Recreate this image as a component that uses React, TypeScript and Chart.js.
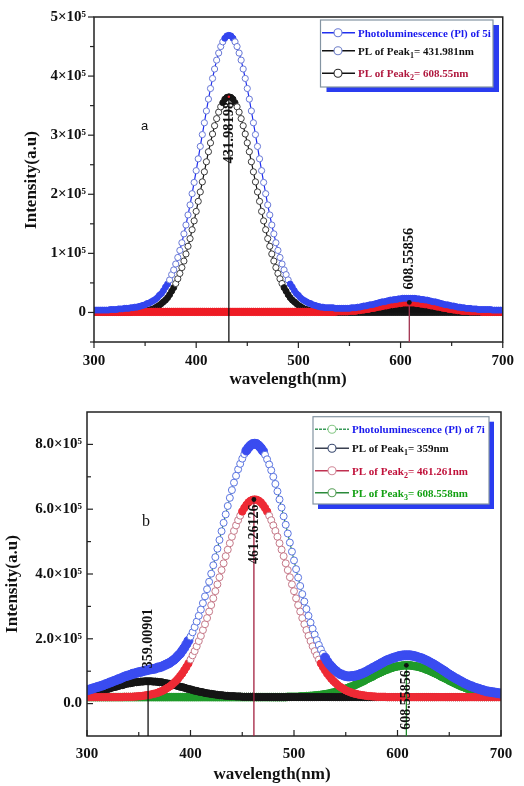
import React, { useEffect, useRef } from "react";
import { Chart, registerables } from "chart.js";

Chart.register(...registerables);

const SERIF = "'Liberation Serif', 'Times New Roman', Times, serif";
const SANS = "'Liberation Sans', Arial, Helvetica, sans-serif";

// ---------------- data (intensities in units of 10^3) ----------------
const wavelength = [
  300, 302, 304, 306, 308, 310, 312, 314, 316, 318,
  320, 322, 324, 326, 328, 330, 332, 334, 336, 338,
  340, 342, 344, 346, 348, 350, 352, 354, 356, 358,
  360, 362, 364, 366, 368, 370, 372, 374, 376, 378,
  380, 382, 384, 386, 388, 390, 392, 394, 396, 398,
  400, 402, 404, 406, 408, 410, 412, 414, 416, 418,
  420, 422, 424, 426, 428, 430, 432, 434, 436, 438,
  440, 442, 444, 446, 448, 450, 452, 454, 456, 458,
  460, 462, 464, 466, 468, 470, 472, 474, 476, 478,
  480, 482, 484, 486, 488, 490, 492, 494, 496, 498,
  500, 502, 504, 506, 508, 510, 512, 514, 516, 518,
  520, 522, 524, 526, 528, 530, 532, 534, 536, 538,
  540, 542, 544, 546, 548, 550, 552, 554, 556, 558,
  560, 562, 564, 566, 568, 570, 572, 574, 576, 578,
  580, 582, 584, 586, 588, 590, 592, 594, 596, 598,
  600, 602, 604, 606, 608, 610, 612, 614, 616, 618,
  620, 622, 624, 626, 628, 630, 632, 634, 636, 638,
  640, 642, 644, 646, 648, 650, 652, 654, 656, 658,
  660, 662, 664, 666, 668, 670, 672, 674, 676, 678,
  680, 682, 684, 686, 688, 690, 692, 694, 696, 698,
  700,
];

// Panel (a): compound 5i
const pl5iTotal = [
  4, 4, 4, 4, 4, 4, 4, 4, 5, 5,
  5, 5, 6, 6, 6, 7, 7, 7, 8, 8,
  9, 9, 10, 11, 12, 13, 15, 16, 18, 20,
  22, 25, 29, 32, 37, 43, 48, 55, 64, 72,
  82, 93, 105, 118, 133, 148, 165, 182, 201, 220,
  240, 260, 281, 301, 321, 341, 361, 379, 396, 412,
  427, 439, 450, 458, 464, 468, 469, 468, 464, 458,
  450, 439, 427, 412, 396, 379, 361, 341, 321, 301,
  281, 260, 240, 220, 201, 182, 165, 148, 133, 118,
  105, 93, 82, 72, 64, 55, 48, 43, 37, 32,
  29, 25, 22, 20, 18, 16, 15, 13, 12, 11,
  10, 9, 9, 8, 8, 8, 8, 8, 7, 7,
  7, 7, 7, 7, 7, 7, 8, 8, 8, 9,
  9, 10, 11, 11, 12, 13, 13, 14, 15, 16,
  17, 18, 18, 19, 20, 21, 21, 22, 22, 23,
  23, 24, 24, 24, 24, 24, 24, 24, 23, 23,
  22, 22, 21, 21, 20, 19, 18, 18, 17, 16,
  15, 14, 13, 13, 12, 11, 11, 10, 9, 9,
  8, 8, 7, 7, 7, 6, 6, 6, 5, 5,
  5, 5, 5, 5, 5, 4, 4, 4, 4, 4,
  4,
];
const pl5iPeak1 = [
  0, 0, 0, 0, 0, 0, 0, 0, 0, 0,
  0, 0, 0, 0, 0, 0, 0, 0, 0, 1,
  1, 1, 1, 2, 2, 2, 3, 4, 5, 6,
  8, 10, 12, 15, 18, 21, 25, 30, 36, 42,
  49, 57, 66, 76, 87, 99, 112, 125, 140, 155,
  171, 188, 204, 221, 238, 255, 272, 287, 302, 316,
  328, 339, 348, 355, 361, 364, 365, 364, 361, 355,
  348, 339, 328, 316, 302, 287, 272, 255, 238, 221,
  204, 188, 171, 155, 140, 125, 112, 99, 87, 76,
  66, 57, 49, 42, 36, 30, 25, 21, 18, 15,
  12, 10, 8, 6, 5, 4, 3, 2, 2, 2,
  1, 1, 1, 1, 0, 0, 0, 0, 0, 0,
  0, 0, 0, 0, 0, 0, 0, 0, 0, 0,
  0, 0, 0, 0, 0, 0, 0, 0, 0, 0,
  0, 0, 0, 0, 0, 0, 0, 0, 0, 0,
  0, 0, 0, 0, 0, 0, 0, 0, 0, 0,
  0, 0, 0, 0, 0, 0, 0, 0, 0, 0,
  0, 0, 0, 0, 0, 0, 0, 0, 0, 0,
  0, 0, 0, 0, 0, 0, 0, 0, 0, 0,
  0, 0, 0, 0, 0, 0, 0, 0, 0, 0,
  0,
];
const pl5iPeak2 = [
  1, 1, 1, 1, 1, 1, 1, 1, 1, 1,
  1, 1, 1, 1, 1, 1, 1, 1, 1, 1,
  1, 1, 1, 1, 1, 1, 1, 1, 1, 1,
  1, 1, 1, 1, 1, 1, 1, 1, 1, 1,
  1, 1, 1, 1, 1, 1, 1, 1, 1, 1,
  1, 1, 1, 1, 1, 1, 1, 1, 1, 1,
  1, 1, 1, 1, 1, 1, 1, 1, 1, 1,
  1, 1, 1, 1, 1, 1, 1, 1, 1, 1,
  1, 1, 1, 1, 1, 1, 1, 1, 1, 1,
  1, 1, 1, 1, 1, 1, 1, 1, 1, 1,
  1, 1, 1, 1, 1, 1, 1, 1, 1, 1,
  1, 1, 1, 1, 1, 1, 1, 1, 1, 2,
  2, 2, 2, 2, 2, 3, 3, 3, 3, 4,
  4, 5, 5, 6, 6, 7, 8, 8, 9, 10,
  10, 11, 12, 12, 13, 14, 14, 15, 15, 16,
  16, 17, 17, 17, 17, 17, 17, 17, 16, 16,
  15, 15, 14, 14, 13, 12, 12, 11, 10, 10,
  9, 8, 8, 7, 6, 6, 5, 5, 4, 4,
  3, 3, 3, 3, 2, 2, 2, 2, 2, 2,
  1, 1, 1, 1, 1, 1, 1, 1, 1, 1,
  1,
];

// Panel (b): compound 7i
const pl7iTotal = [
  41, 43, 45, 47, 49, 51, 53, 55, 57, 60,
  62, 65, 67, 70, 72, 75, 77, 80, 83, 85,
  87, 89, 92, 93, 95, 97, 98, 100, 102, 103,
  105, 106, 107, 108, 111, 112, 114, 117, 120, 123,
  126, 131, 135, 141, 148, 154, 163, 172, 183, 194,
  207, 220, 236, 253, 271, 290, 310, 331, 353, 376,
  401, 427, 452, 478, 505, 532, 558, 584, 610, 635,
  659, 682, 703, 723, 740, 756, 770, 781, 790, 797,
  801, 802, 801, 796, 789, 780, 768, 754, 738, 720,
  700, 678, 655, 630, 605, 578, 552, 525, 497, 469,
  442, 415, 389, 363, 338, 315, 292, 271, 250, 231,
  213, 196, 181, 167, 154, 142, 131, 122, 115, 108,
  102, 97, 92, 90, 87, 85, 84, 84, 85, 85,
  87, 88, 91, 93, 96, 99, 103, 106, 110, 113,
  117, 120, 124, 127, 131, 134, 136, 139, 141, 143,
  145, 147, 148, 149, 149, 149, 149, 148, 147, 145,
  143, 141, 139, 136, 133, 130, 126, 123, 119, 115,
  111, 107, 103, 99, 94, 90, 86, 82, 78, 75,
  71, 68, 64, 61, 58, 55, 53, 50, 48, 46,
  44, 42, 40, 38, 37, 36, 35, 34, 33, 32,
  31,
];
const pl7iPeak1 = [
  31, 32, 33, 35, 36, 37, 39, 40, 42, 44,
  45, 47, 49, 51, 52, 54, 56, 57, 59, 61,
  62, 63, 64, 66, 66, 67, 68, 68, 69, 69,
  69, 69, 68, 68, 67, 66, 66, 64, 63, 62,
  61, 59, 57, 56, 54, 52, 51, 49, 47, 45,
  44, 42, 40, 39, 37, 36, 35, 33, 32, 31,
  30, 29, 28, 27, 26, 26, 25, 24, 24, 23,
  23, 23, 22, 22, 22, 21, 21, 21, 21, 21,
  21, 20, 20, 20, 20, 20, 20, 20, 20, 20,
  20, 20, 20, 20, 20, 20, 20, 20, 20, 20,
  20, 20, 20, 20, 20, 20, 20, 20, 20, 20,
  20, 20, 20, 20, 20, 20, 20, 20, 20, 20,
  20, 20, 20, 20, 20, 20, 20, 20, 20, 20,
  20, 20, 20, 20, 20, 20, 20, 20, 20, 20,
  20, 20, 20, 20, 20, 20, 20, 20, 20, 20,
  20, 20, 20, 20, 20, 20, 20, 20, 20, 20,
  20, 20, 20, 20, 20, 20, 20, 20, 20, 20,
  20, 20, 20, 20, 20, 20, 20, 20, 20, 20,
  20, 20, 20, 20, 20, 20, 20, 20, 20, 20,
  20, 20, 20, 20, 20, 20, 20, 20, 20, 20,
  20,
];
const pl7iPeak2 = [
  20, 20, 20, 20, 20, 20, 20, 20, 20, 20,
  20, 20, 20, 20, 20, 20, 20, 20, 21, 21,
  21, 21, 21, 22, 22, 23, 23, 24, 25, 26,
  27, 28, 30, 31, 33, 36, 38, 41, 45, 49,
  53, 58, 64, 70, 77, 85, 93, 103, 113, 124,
  136, 149, 162, 177, 193, 209, 227, 245, 264, 284,
  304, 325, 347, 368, 390, 412, 433, 455, 475, 495,
  515, 533, 550, 566, 580, 593, 604, 613, 621, 626,
  629, 630, 629, 626, 621, 613, 604, 593, 580, 566,
  550, 533, 515, 495, 475, 455, 433, 412, 390, 368,
  347, 325, 304, 284, 264, 245, 227, 209, 193, 177,
  162, 149, 136, 124, 113, 103, 93, 85, 77, 70,
  64, 58, 53, 49, 45, 41, 38, 36, 33, 31,
  30, 28, 27, 26, 25, 24, 23, 23, 22, 22,
  21, 21, 21, 21, 21, 20, 20, 20, 20, 20,
  20, 20, 20, 20, 20, 20, 20, 20, 20, 20,
  20, 20, 20, 20, 20, 20, 20, 20, 20, 20,
  20, 20, 20, 20, 20, 20, 20, 20, 20, 20,
  20, 20, 20, 20, 20, 20, 20, 20, 20, 20,
  20, 20, 20, 20, 20, 20, 20, 20, 20, 20,
  20,
];
const pl7iPeak3 = [
  20, 20, 20, 20, 20, 20, 20, 20, 20, 20,
  20, 20, 20, 20, 20, 20, 20, 20, 20, 20,
  20, 20, 20, 20, 20, 20, 20, 20, 20, 20,
  20, 20, 20, 20, 20, 20, 20, 20, 20, 20,
  20, 20, 20, 20, 20, 20, 20, 20, 20, 20,
  20, 20, 20, 20, 20, 20, 20, 20, 20, 20,
  20, 20, 20, 20, 20, 20, 20, 20, 20, 20,
  20, 20, 20, 20, 20, 20, 20, 20, 20, 20,
  20, 20, 20, 20, 20, 20, 20, 20, 20, 20,
  20, 20, 20, 20, 20, 20, 20, 21, 21, 21,
  21, 21, 21, 22, 22, 22, 23, 23, 24, 24,
  25, 25, 26, 27, 28, 29, 30, 31, 33, 34,
  36, 37, 39, 41, 43, 46, 48, 51, 53, 56,
  59, 62, 65, 68, 71, 75, 78, 81, 84, 88,
  91, 94, 97, 100, 103, 105, 108, 110, 112, 114,
  115, 116, 117, 118, 118, 118, 118, 117, 116, 115,
  114, 112, 110, 108, 105, 103, 100, 97, 94, 91,
  88, 84, 81, 78, 75, 71, 68, 65, 62, 59,
  56, 53, 51, 48, 46, 43, 41, 39, 37, 36,
  34, 33, 31, 30, 29, 28, 27, 26, 25, 25,
  24,
];

// axis ticks
const xTicks = [300, 400, 500, 600, 700];
const xMinorTicks = [350, 450, 550, 650];
const yTicksA = [0, 100, 200, 300, 400, 500];
const yTickLabelsA = ["0", "1×10⁵", "2×10⁵", "3×10⁵", "4×10⁵", "5×10⁵"];
const yMinorTicksA = [-50, 50, 150, 250, 350, 450];
const yTicksB = [0, 200, 400, 600, 800];
const yTickLabelsB = ["0.0", "2.0×10⁵", "4.0×10⁵", "6.0×10⁵", "8.0×10⁵"];
const yMinorTicksB = [100, 300, 500, 700];

// peak annotations
const peakXA = [431.98198, 608.55856];
const peakYA = [365, 17];
const peakLabelsA = ["431.98198", "608.55856"];
const peakXB = [359.00901, 461.26126, 608.55856];
const peakYB = [69, 630, 118];
const peakLabelsB = ["359.00901", "461.26126", "608.55856"];

// legend texts: [main, subscript, rest]
const legendTextsA = [
  ["Photoluminescence (Pl) of 5i", "", ""],
  ["PL of Peak", "1", "= 431.981nm"],
  ["PL of Peak", "2", "= 608.55nm"],
];
const legendTextsB = [
  ["Photoluminescence (Pl) of 7i", "", ""],
  ["PL of Peak", "1", "= 359nm"],
  ["PL of Peak", "2", "= 461.261nm"],
  ["PL of Peak", "3", "= 608.558nm"],
];

// ---------------- styles / layout ----------------
type SeriesStyle = {
  data: number[]; line: string; ring: string; solid: string;
  r: number; rDense: number; fillBelow?: string;
};
type LegendRowStyle = { text: string; line: string; ring: string; dash?: number[] };
type PanelSpec = {
  series: SeriesStyle[];
  yMin: number; yMax: number;
  yTicks: number[]; yLabels: string[]; yMinor: number[];
  padTop: number; padRight: number; yAxisW: number; xAxisH: number;
  xTickPad: number; yTickPad: number; tickDir: number;
  yTitle: [number, number]; xTitle: [number, number];
  peaksX: number[]; peaksY: number[]; peakLabels: string[];
  peakColors: string[]; peakSides: string[]; peakFont: string; redDot: number;
  legendTexts: string[][]; legendRows: LegendRowStyle[];
  legendBox: { x: number; y: number; w: number; h: number; dx: number; dy: number };
  legendRowY: number[]; legendSym: [number, number, number]; legendTextX: number;
  letter: { text: string; x: number; y: number; font: string };
};

const specA: PanelSpec = {
  series: [
    { data: pl5iTotal, line: "#1e2df2", ring: "#6878d6", solid: "#3345ee", r: 3.1, rDense: 3.0 },
    { data: pl5iPeak2, line: "#ee1c25", ring: "#ee1c25", solid: "#ee1c25", r: 3.6, rDense: 3.7, fillBelow: "#111111" },
    { data: pl5iPeak1, line: "#111111", ring: "#3c3c3c", solid: "#161616", r: 3.1, rDense: 3.0 },
  ],
  yMin: -50, yMax: 500, yTicks: yTicksA, yLabels: yTickLabelsA, yMinor: yMinorTicksA,
  padTop: 10, padRight: 19, yAxisW: 94, xAxisH: 51, xTickPad: 10, yTickPad: 8, tickDir: -1,
  yTitle: [32, 180], xTitle: [288, 380],
  peaksX: peakXA, peaksY: peakYA, peakLabels: peakLabelsA,
  peakColors: ["#111111", "#a3334f"], peakSides: ["below", "above"],
  peakFont: `bold 14.5px ${SERIF}`, redDot: 0,
  legendTexts: legendTextsA,
  legendRows: [
    { text: "#1a1aee", line: "#2030f0", ring: "#6a7ad6" },
    { text: "#111111", line: "#111111", ring: "#7080c8" },
    { text: "#b0183e", line: "#111111", ring: "#2a2a2a" },
  ],
  legendBox: { x: 320.5, y: 20, w: 172.5, h: 67, dx: 6, dy: 5 },
  legendRowY: [32.7, 50.7, 73.3], legendSym: [322, 355, 338], legendTextX: 358,
  letter: { text: "a", x: 144.5, y: 129.5, font: `13px ${SANS}` },
};

const specB: PanelSpec = {
  series: [
    { data: pl7iTotal, line: "#2f8a50", ring: "#5a74e0", solid: "#3a4cf0", r: 3.5, rDense: 4.5 },
    { data: pl7iPeak2, line: "#c42a48", ring: "#c57888", solid: "#ee2a35", r: 3.5, rDense: 3.7 },
    { data: pl7iPeak1, line: "#111111", ring: "#222222", solid: "#151515", r: 3.5, rDense: 3.6 },
    { data: pl7iPeak3, line: "#1b8a25", ring: "#7cc47c", solid: "#1f9a2a", r: 3.5, rDense: 3.9 },
  ],
  yMin: -100, yMax: 900, yTicks: yTicksB, yLabels: yTickLabelsB, yMinor: yMinorTicksB,
  padTop: 19, padRight: 23, yAxisW: 87, xAxisH: 50, xTickPad: 9, yTickPad: 5, tickDir: 1,
  yTitle: [13, 191], xTitle: [272, 382],
  peaksX: peakXB, peaksY: peakYB, peakLabels: peakLabelsB,
  peakColors: ["#111111", "#a3203f", "#1f8a2a"], peakSides: ["above", "below", "below"],
  peakFont: `bold 14px ${SERIF}`, redDot: -1,
  legendTexts: legendTextsB,
  legendRows: [
    { text: "#1a1aee", line: "#3a9a5a", ring: "#88c888", dash: [3, 1] },
    { text: "#111111", line: "#3a4050", ring: "#3a4a70" },
    { text: "#c0103a", line: "#c03050", ring: "#d08898" },
    { text: "#12a012", line: "#2a8a3a", ring: "#5aa05a" },
  ],
  legendBox: { x: 313, y: 23.7, w: 176, h: 87.3, dx: 5, dy: 5 },
  legendRowY: [36.3, 55.3, 77.7, 99.7], legendSym: [315, 349, 332], legendTextX: 352,
  letter: { text: "b", x: 146, y: 133, font: `16px ${SERIF}` },
};

function rotText(ctx: CanvasRenderingContext2D, text: string, x: number, y: number, align: CanvasTextAlign) {
  ctx.save();
  ctx.translate(x, y);
  ctx.rotate(-Math.PI / 2);
  ctx.textAlign = align;
  ctx.textBaseline = "middle";
  ctx.fillText(text, 0, 0);
  ctx.restore();
}

function seg(ctx: CanvasRenderingContext2D, x0: number, y0: number, x1: number, y1: number) {
  ctx.beginPath();
  ctx.moveTo(x0, y0);
  ctx.lineTo(x1, y1);
  ctx.stroke();
}

function buildChart(canvas: HTMLCanvasElement, spec: PanelSpec): Chart {
  const isDense = (ctx: any, values: number[]) => {
    if (!ctx || ctx.type !== "data") return false;
    const ch = ctx.chart;
    const xs = ch.scales.x, ys = ch.scales.y;
    if (!xs || !ys) return false;
    const i = ctx.dataIndex;
    const a = Math.max(0, i - 1), b = Math.min(values.length - 1, i + 1);
    const dx = (xs.getPixelForValue(wavelength[b]) - xs.getPixelForValue(wavelength[a])) / (b - a);
    const dy = (ys.getPixelForValue(values[b]) - ys.getPixelForValue(values[a])) / (b - a);
    return Math.hypot(dx, dy) < 4.5;
  };

  const datasets = spec.series.map((s) => ({
    data: wavelength.map((x, i) => ({ x, y: s.data[i] })),
    borderColor: s.line,
    borderWidth: 1.2,
    backgroundColor: s.fillBelow || "rgba(0,0,0,0)",
    fill: s.fillBelow ? "origin" : false,
    tension: 0,
    pointRadius: (c: any) => (isDense(c, s.data) ? s.rDense : s.r),
    pointBackgroundColor: (c: any) => (isDense(c, s.data) ? s.solid : "#ffffff"),
    pointBorderColor: (c: any) => (isDense(c, s.data) ? s.solid : s.ring),
    pointBorderWidth: 1,
  }));

  const decor = {
    id: "decor",
    afterDatasetsDraw(chart: any) {
      const { ctx, chartArea: ca } = chart;
      const xs = chart.scales.x, ys = chart.scales.y;
      const dir = spec.tickDir; // 1 = inward, -1 = outward
      ctx.save();
      // frame
      ctx.strokeStyle = "#222";
      ctx.lineWidth = 1.5;
      ctx.strokeRect(ca.left, ca.top, ca.right - ca.left, ca.bottom - ca.top);
      // ticks
      ctx.lineWidth = 1.2;
      xTicks.forEach((v) => { const p = xs.getPixelForValue(v); seg(ctx, p, ca.bottom, p, ca.bottom - 6 * dir); });
      xMinorTicks.forEach((v) => { const p = xs.getPixelForValue(v); seg(ctx, p, ca.bottom, p, ca.bottom - 4 * dir); });
      spec.yTicks.forEach((v) => { const p = ys.getPixelForValue(v); seg(ctx, ca.left, p, ca.left + 6 * dir, p); });
      spec.yMinor.forEach((v) => { const p = ys.getPixelForValue(v); seg(ctx, ca.left, p, ca.left + 4 * dir, p); });

      // peak drop lines, dots and labels
      spec.peaksX.forEach((pxv, i) => {
        const px = xs.getPixelForValue(pxv);
        const py = ys.getPixelForValue(spec.peaksY[i]);
        ctx.strokeStyle = spec.peakColors[i];
        ctx.lineWidth = 1.3;
        seg(ctx, px, py, px, ca.bottom);
        ctx.fillStyle = "#111";
        ctx.beginPath(); ctx.arc(px, py, 2.4, 0, Math.PI * 2); ctx.fill();
        if (i === spec.redDot) {
          ctx.fillStyle = "#ee1c25";
          ctx.beginPath(); ctx.arc(px, py, 1.3, 0, Math.PI * 2); ctx.fill();
        }
        ctx.fillStyle = "#111";
        ctx.font = spec.peakFont;
        if (spec.peakSides[i] === "above") rotText(ctx, spec.peakLabels[i], px, py - 13, "left");
        else rotText(ctx, spec.peakLabels[i], px, py + 5, "right");
      });

      // panel letter
      ctx.fillStyle = "#111";
      ctx.font = spec.letter.font;
      ctx.textAlign = "center";
      ctx.textBaseline = "alphabetic";
      ctx.fillText(spec.letter.text, spec.letter.x, spec.letter.y);

      // legend
      const lb = spec.legendBox;
      ctx.fillStyle = "#2a3cf0";
      ctx.fillRect(lb.x + lb.dx, lb.y + lb.dy, lb.w, lb.h);
      ctx.fillStyle = "#ffffff";
      ctx.fillRect(lb.x, lb.y, lb.w, lb.h);
      ctx.strokeStyle = "#8494a2";
      ctx.lineWidth = 1.2;
      ctx.strokeRect(lb.x, lb.y, lb.w, lb.h);
      const [sx0, sx1, scx] = spec.legendSym;
      spec.legendRows.forEach((row, i) => {
        const yy = spec.legendRowY[i];
        ctx.strokeStyle = row.line;
        ctx.lineWidth = 1.5;
        ctx.setLineDash(row.dash || []);
        seg(ctx, sx0, yy, sx1, yy);
        ctx.setLineDash([]);
        ctx.fillStyle = "#fff";
        ctx.strokeStyle = row.ring;
        ctx.lineWidth = 1.1;
        ctx.beginPath(); ctx.arc(scx, yy, 4, 0, Math.PI * 2); ctx.fill(); ctx.stroke();
        const parts = spec.legendTexts[i];
        const main = `bold 11px ${SERIF}`;
        ctx.fillStyle = row.text;
        ctx.textAlign = "left";
        ctx.textBaseline = "alphabetic";
        ctx.font = main;
        let x = spec.legendTextX;
        const base = yy + 4;
        ctx.fillText(parts[0], x, base);
        x += ctx.measureText(parts[0]).width;
        if (parts[1]) {
          ctx.font = `bold 8px ${SERIF}`;
          ctx.fillText(parts[1], x, base + 3);
          x += ctx.measureText(parts[1]).width;
          ctx.font = main;
        }
        if (parts[2]) ctx.fillText(parts[2], x, base);
      });

      // axis titles
      ctx.fillStyle = "#111";
      ctx.font = `bold 17px ${SERIF}`;
      rotText(ctx, "Intensity(a.u)", spec.yTitle[0], spec.yTitle[1], "center");
      ctx.textAlign = "center";
      ctx.textBaseline = "middle";
      ctx.fillText("wavelength(nm)", spec.xTitle[0], spec.xTitle[1]);
      ctx.restore();
    },
  };

  const tickFont = { family: SERIF, size: 15, weight: "bold" as const };

  return new Chart(canvas, {
    type: "line",
    data: { datasets: datasets as any },
    options: {
      responsive: false,
      animation: false,
      events: [],
      layout: { padding: { top: spec.padTop, right: spec.padRight, left: 0, bottom: 0 } },
      plugins: { legend: { display: false }, tooltip: { enabled: false } },
      scales: {
        x: {
          type: "linear",
          min: 300,
          max: 700,
          afterBuildTicks: (s: any) => { s.ticks = xTicks.map((v) => ({ value: v })); },
          ticks: { font: tickFont, color: "#111", padding: spec.xTickPad, maxRotation: 0, autoSkip: false },
          grid: { display: false, drawTicks: false },
          border: { display: false },
          afterFit: (s: any) => { s.height = spec.xAxisH; },
        },
        y: {
          type: "linear",
          min: spec.yMin,
          max: spec.yMax,
          afterBuildTicks: (s: any) => { s.ticks = spec.yTicks.map((v) => ({ value: v })); },
          ticks: {
            font: tickFont,
            color: "#111",
            padding: spec.yTickPad,
            autoSkip: false,
            callback: (v: any) => {
              const k = spec.yTicks.indexOf(Number(v));
              return k >= 0 ? spec.yLabels[k] : "";
            },
          },
          grid: { display: false, drawTicks: false },
          border: { display: false },
          afterFit: (s: any) => { s.width = spec.yAxisW; },
        },
      },
    } as any,
    plugins: [decor],
  });
}

export default function App() {
  const refA = useRef<HTMLCanvasElement>(null);
  const refB = useRef<HTMLCanvasElement>(null);
  useEffect(() => {
    const a = buildChart(refA.current as HTMLCanvasElement, specA);
    const b = buildChart(refB.current as HTMLCanvasElement, specB);
    return () => { a.destroy(); b.destroy(); };
  }, []);
  return (
    <div style={{ position: "absolute", left: 0, top: 0, width: 524, height: 786, background: "#ffffff" }}>
      <canvas ref={refA} width={524} height={393} style={{ display: "block", width: 524, height: 393 }} />
      <canvas ref={refB} width={524} height={393} style={{ display: "block", width: 524, height: 393 }} />
    </div>
  );
}
